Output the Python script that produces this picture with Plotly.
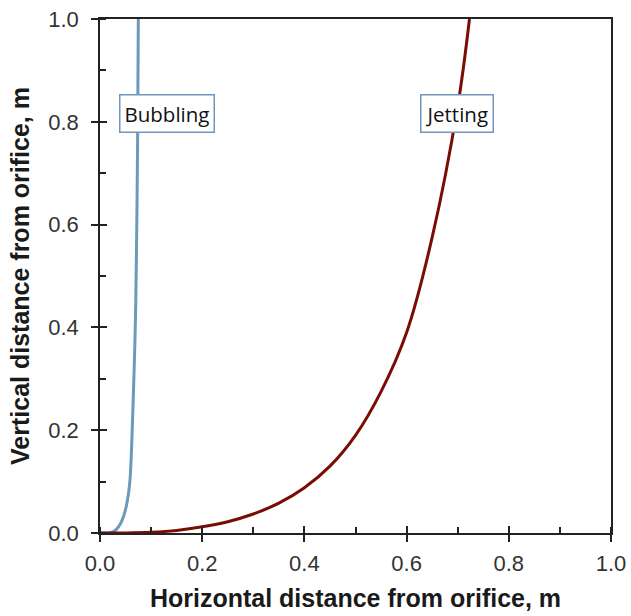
import plotly.graph_objects as go

# Bubbling trajectory
bubbling_x = [0.0, 0.018, 0.025, 0.032, 0.040, 0.047, 0.053, 0.058, 0.062, 0.065, 0.068, 0.070, 0.072, 0.0735, 0.075]
bubbling_y = [0.0, 0.0, 0.002, 0.007, 0.018, 0.035, 0.060, 0.095, 0.170, 0.260, 0.360, 0.450, 0.600, 0.750, 1.0]

# Jetting trajectory
jetting_x = [0.0, 0.05, 0.1, 0.15, 0.2, 0.25, 0.3, 0.35, 0.4, 0.45, 0.5, 0.55, 0.6, 0.65, 0.7, 0.723]
jetting_y = [0.0, 0.0002, 0.0015, 0.005, 0.012, 0.022, 0.037, 0.058, 0.088, 0.130, 0.190, 0.275, 0.390, 0.575, 0.830, 1.0]

labels = ["Bubbling", "Jetting"]
label_x = [0.131, 0.698]
label_y = [0.817, 0.817]

tick_vals = [0.0, 0.2, 0.4, 0.6, 0.8, 1.0]
tick_text = ["0.0", "0.2", "0.4", "0.6", "0.8", "1.0"]

fig = go.Figure()
fig.add_trace(go.Scatter(x=bubbling_x, y=bubbling_y, mode="lines",
                         line=dict(color="#6b9abb", width=3, shape="spline", smoothing=1.0),
                         showlegend=False, hoverinfo="skip"))
fig.add_trace(go.Scatter(x=jetting_x, y=jetting_y, mode="lines",
                         line=dict(color="#7a0c04", width=3, shape="spline", smoothing=1.0),
                         showlegend=False, hoverinfo="skip"))
# empty trace to activate overlay axes (inner half of major ticks)
fig.add_trace(go.Scatter(x=[], y=[], xaxis="x2", yaxis="y2", showlegend=False))

for t, xx, yy in zip(labels, label_x, label_y):
    fig.add_annotation(x=xx, y=yy, xref="x", yref="y", text=t, showarrow=False,
                       font=dict(family="Open Sans", size=20.5, color="#111111"),
                       bgcolor="white", bordercolor="#7296bd", borderwidth=1.5,
                       borderpad=4)

tickfont = dict(family="Liberation Sans, Arial", size=22, color="#333333")
titlefont = dict(family="Liberation Sans, Arial", size=25, color="#1a1a1a", weight="bold")

fig.update_layout(
    width=631, height=616,
    margin=dict(l=100, r=20, t=19, b=83),
    paper_bgcolor="white", plot_bgcolor="white",
    xaxis=dict(range=[0, 1], tickvals=tick_vals, ticktext=tick_text,
               ticks="outside", ticklen=7, tickwidth=1.5, tickcolor="#222",
               minor=dict(ticks="inside", ticklen=6, tickwidth=1.5, tickcolor="#222", dtick=0.1, tick0=0),
               showline=True, linecolor="#222", linewidth=1.5, mirror=True,
               showgrid=False, zeroline=False, tickfont=tickfont, automargin=False,
               ticklabelstandoff=3,
               title=dict(text="Horizontal distance from orifice, m", font=titlefont, standoff=14)),
    yaxis=dict(range=[0, 1], tickvals=tick_vals, ticktext=tick_text,
               ticks="outside", ticklen=7, tickwidth=1.5, tickcolor="#222",
               minor=dict(ticks="inside", ticklen=6, tickwidth=1.5, tickcolor="#222", dtick=0.1, tick0=0),
               showline=True, linecolor="#222", linewidth=1.5, mirror=True,
               showgrid=False, zeroline=False, tickfont=tickfont, automargin=False,
               ticklabelstandoff=8,
               title=dict(text="Vertical distance from orifice, m", font=titlefont, standoff=12)),
    xaxis2=dict(range=[0, 1], overlaying="x", anchor="y", side="bottom",
                tickvals=tick_vals, ticks="inside", ticklen=7, tickwidth=1.5, tickcolor="#222",
                showticklabels=False, showgrid=False, zeroline=False, showline=False),
    yaxis2=dict(range=[0, 1], overlaying="y", anchor="x", side="left",
                tickvals=tick_vals, ticks="inside", ticklen=7, tickwidth=1.5, tickcolor="#222",
                showticklabels=False, showgrid=False, zeroline=False, showline=False),
)

fig.write_html("out.html")
